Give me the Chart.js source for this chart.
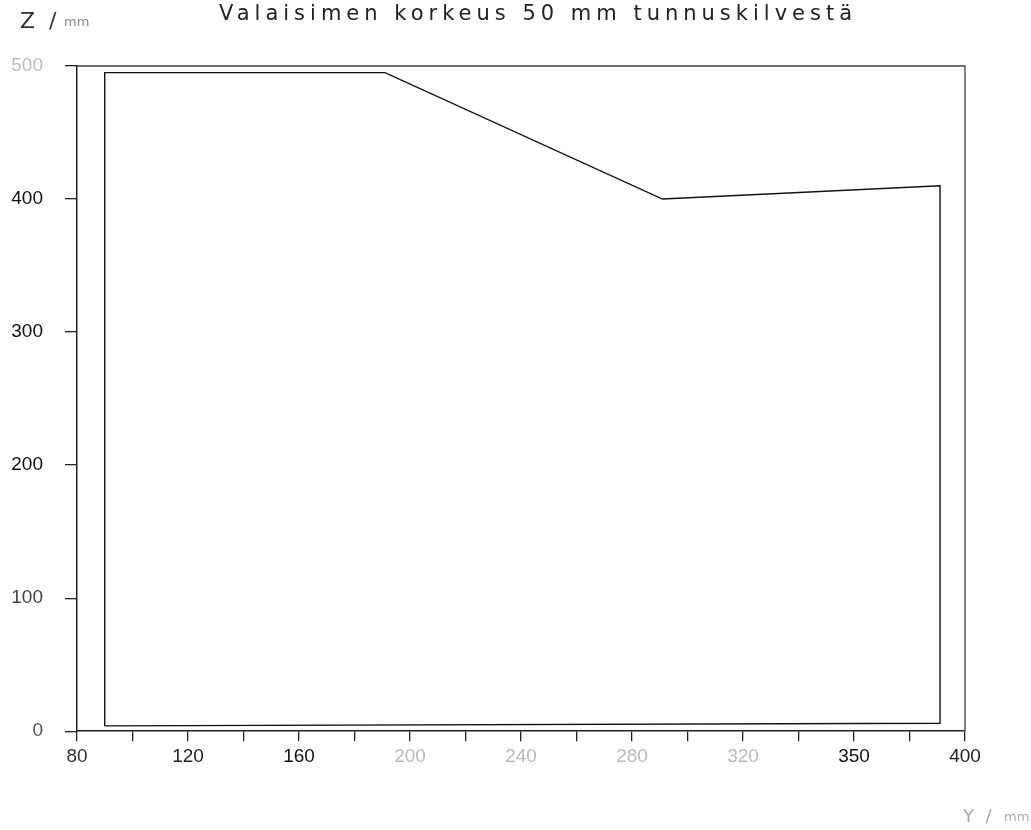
<!DOCTYPE html>
<html>
<head>
<meta charset="utf-8">
<script src="https://cdn.jsdelivr.net/npm/chart.js@4.4.1/dist/chart.umd.min.js"></script>
<style>
  html, body { margin: 0; padding: 0; background: #fff; }
  #wrap { width: 1031px; height: 830px; }
</style>
</head>
<body>
<div id="wrap"><canvas id="kuva"></canvas></div>
<script>
// mitattu ääriviiva (Y, Z) mm
const pisteY = [90, 90, 191, 291, 391, 391, 90];
const pisteZ = [4, 495, 495, 400, 410, 6, 4];

// akselien merkinnät
const yTicks = [80, 120, 160, 200, 240, 280, 320, 360, 400];
const yTickTeksti = ['80', '120', '160', '200', '240', '280', '320', '350', '400'];
const yTickVari = ['#333', '#222', '#111', '#bbb', '#bbb', '#bbb', '#bbb', '#111', '#222'];
const zTicks = [0, 100, 200, 300, 400, 500];
const zTickVari = ['#555', '#444', '#111', '#111', '#111', '#bbb'];

const otsikko = 'Valaisimen korkeus 50 mm tunnuskilvestä';

// kehys ylä- ja oikealle sekä tekstit
const kehys = {
  id: 'kehys',
  afterDraw(chart) {
    const { ctx, chartArea: a } = chart;
    ctx.save();
    ctx.strokeStyle = '#444';
    ctx.lineWidth = 1.3;
    ctx.beginPath();
    ctx.moveTo(a.left, a.top);
    ctx.lineTo(a.right, a.top);
    ctx.lineTo(a.right, a.bottom);
    ctx.stroke();

    ctx.fillStyle = '#222';
    ctx.font = '21px "DejaVu Sans"';
    ctx.letterSpacing = '5px';
    ctx.textAlign = 'center';
    ctx.textBaseline = 'alphabetic';
    ctx.fillText(otsikko, 538, 20);

    ctx.letterSpacing = '0px';
    ctx.textAlign = 'left';
    ctx.font = '22px "DejaVu Sans"';
    ctx.fillStyle = '#333';
    ctx.fillText('Z  /', 20, 28);
    ctx.font = '13px "DejaVu Sans"';
    ctx.fillStyle = '#888';
    ctx.fillText('mm', 64, 26);

    ctx.font = '18px "DejaVu Sans"';
    ctx.fillStyle = '#aaa';
    ctx.fillText('Y  /', 963, 822);
    ctx.font = '13px "DejaVu Sans"';
    ctx.fillText('mm', 1004, 821);
    ctx.restore();
  }
};

new Chart(document.getElementById('kuva'), {
  type: 'scatter',
  data: {
    datasets: [{
      data: pisteY.map((y, i) => ({ x: y, y: pisteZ[i] })),
      showLine: true,
      borderColor: '#111',
      borderWidth: 1.4,
      pointRadius: 0,
      tension: 0
    }]
  },
  options: {
    responsive: true,
    maintainAspectRatio: false,
    animation: false,
    layout: { padding: { left: 10, right: 66, top: 66, bottom: 58 } },
    plugins: { legend: { display: false }, tooltip: { enabled: false } },
    scales: {
      x: {
        type: 'linear',
        min: 80,
        max: 400,
        border: { display: true, color: '#222', width: 1.5 },
        grid: { drawOnChartArea: false, color: '#222', tickLength: 10, lineWidth: 1.3 },
        afterBuildTicks(axis) {
          const t = [];
          for (let v = 80; v <= 400; v += 20) t.push({ value: v });
          axis.ticks = t;
        },
        ticks: {
          padding: 4,
          maxRotation: 0,
          autoSkip: false,
          font: { family: '"Liberation Sans"', size: 19 },
          color: (c) => {
            const i = yTicks.indexOf(c.tick.value);
            return i >= 0 ? yTickVari[i] : '#000';
          },
          callback: (v) => {
            const i = yTicks.indexOf(v);
            return i >= 0 ? yTickTeksti[i] : '';
          }
        }
      },
      y: {
        type: 'linear',
        min: 0,
        max: 500,
        border: { display: true, color: '#222', width: 1.5 },
        grid: { drawOnChartArea: false, color: '#222', tickLength: 12, lineWidth: 1.3 },
        afterBuildTicks(axis) {
          axis.ticks = zTicks.map(v => ({ value: v }));
        },
        afterFit(axis) {
          axis.width = 67;
        },
        ticks: {
          padding: 22,
          font: { family: '"Liberation Sans"', size: 19 },
          color: (c) => zTickVari[zTicks.indexOf(c.tick.value)] || '#000',
          callback: (v) => String(v)
        }
      }
    }
  },
  plugins: [kehys]
});
</script>
</body>
</html>
